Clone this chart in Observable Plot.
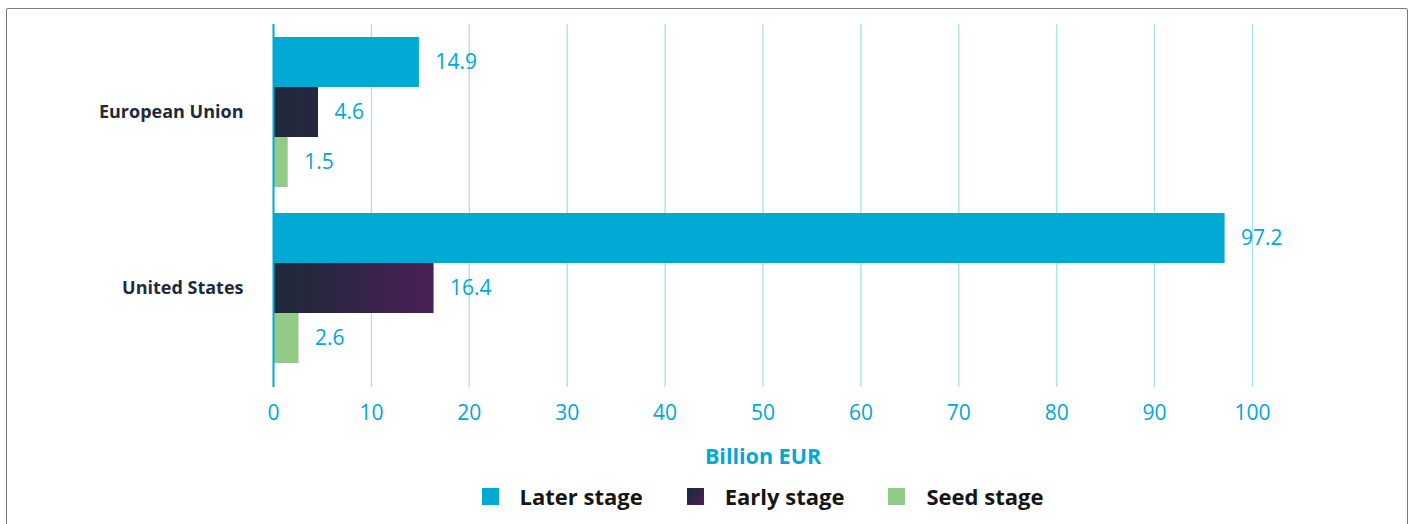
<!DOCTYPE html>
<html>
<head>
<meta charset="utf-8">
<script src="https://cdn.jsdelivr.net/npm/d3@7"></script>
<script src="https://cdn.jsdelivr.net/npm/@observablehq/plot@0.6"></script>
<style>
  html, body { margin: 0; padding: 0; background: #fff; }
  body { width: 1417px; height: 524px; position: relative; overflow: hidden; font-family: "Open Sans", sans-serif; }
  #frame { position: absolute; left: 6px; top: 8px; width: 1400px; height: 540px; border: 1.5px solid #7a7a7a; border-radius: 2px; }
  #chart { position: absolute; left: 0; top: 0; }
  #legend { position: absolute; left: 0; width: 1525px; top: 481px; display: flex; justify-content: center; gap: 44px; font-weight: 700; font-size: 22px; color: #151515; }
  #legend .item { display: flex; align-items: center; }
  #legend .sw { width: 17px; height: 17px; margin-right: 21px; }
</style>
</head>
<body>
<div id="frame"></div>
<div id="chart"></div>
<div id="legend"></div>
<script>
const countries = ["European Union", "United States"];
const stages = ["Later stage", "Early stage", "Seed stage"];
const euValues = [14.9, 4.6, 1.5];
const usValues = [97.2, 16.4, 2.6];
const xTicks = [0, 10, 20, 30, 40, 50, 60, 70, 80, 90, 100];
const stageColors = ["#00aad4", "url(#earlyGrad)", "#92cb88"];
const earlyGradStops = ["#1b2a36", "#4b1f58"];

const valuesByCountry = [euValues, usValues];
const data = countries.flatMap((c, i) => stages.map((s, j) => ({country: c, stage: s, value: valuesByCountry[i][j]})));

const gridColor = "#a9dff0";
const blue = "#00a8d4";

const chart = Plot.plot({
  width: 1417,
  height: 470,
  marginLeft: 273,
  marginRight: 165,
  marginTop: 24,
  marginBottom: 94,
  style: {fontFamily: "'Open Sans', sans-serif", background: "transparent"},
  x: {domain: [0, 100], axis: null},
  y: {domain: stages, paddingInner: 0, paddingOuter: 0.26, axis: null},
  fy: {domain: countries, padding: 0, label: null, axis: null},
  marks: [
    Plot.ruleX(xTicks.slice(1), {stroke: gridColor, strokeWidth: 1.3}),
    ...stages.map((s, j) => Plot.barX(data.filter(d => d.stage === s), {x: "value", y: "stage", fy: "country", fill: stageColors[j]})),
    Plot.text(data, {x: "value", y: "stage", fy: "country", text: d => d.value.toFixed(1), dx: 16, textAnchor: "start", fill: blue, fontSize: 21}),
    Plot.ruleX([0], {stroke: blue, strokeWidth: 2}),
    Plot.axisX({ticks: xTicks.slice(1), tickSize: 11, tickPadding: 18, stroke: gridColor, strokeWidth: 1.3, fill: blue, fontSize: 21, label: null}),
    Plot.axisX({ticks: [0], tickSize: 11, tickPadding: 18, stroke: blue, strokeWidth: 2, fill: blue, fontSize: 21, label: null}),
    Plot.axisX({ticks: [], label: "Billion EUR", labelAnchor: "center", labelArrow: "none", labelOffset: 87, fill: blue, fontSize: 21.5, fontWeight: "bold"}),
    Plot.axisFy({anchor: "left", tickSize: 0, tickPadding: 30, fontSize: 18, fontWeight: "bold", fill: "#1e2a3b", label: null})
  ]
});

// gradient for early stage bars, spanning x from 0 to the largest early value via the x scale
const xs = chart.scale("x");
const maxEarly = d3.max(data.filter(d => d.stage === "Early stage"), d => d.value);
const ns = "http://www.w3.org/2000/svg";
const defs = document.createElementNS(ns, "defs");
const grad = document.createElementNS(ns, "linearGradient");
grad.setAttribute("id", "earlyGrad");
grad.setAttribute("gradientUnits", "userSpaceOnUse");
grad.setAttribute("x1", xs.apply(0));
grad.setAttribute("x2", xs.apply(maxEarly));
grad.setAttribute("y1", 0);
grad.setAttribute("y2", 0);
earlyGradStops.forEach((c, i) => {
  const st = document.createElementNS(ns, "stop");
  st.setAttribute("offset", i / (earlyGradStops.length - 1));
  st.setAttribute("stop-color", c);
  grad.appendChild(st);
});
defs.appendChild(grad);
chart.insertBefore(defs, chart.firstChild);

document.getElementById("chart").appendChild(chart);

const legend = document.getElementById("legend");
stages.forEach((s, j) => {
  const item = document.createElement("div");
  item.className = "item";
  const sw = document.createElement("span");
  sw.className = "sw";
  sw.style.background = j === 1 ? `linear-gradient(to bottom right, ${earlyGradStops[0]}, ${earlyGradStops[1]})` : stageColors[j];
  const t = document.createElement("span");
  t.textContent = s;
  item.appendChild(sw);
  item.appendChild(t);
  legend.appendChild(item);
});
</script>
</body>
</html>
